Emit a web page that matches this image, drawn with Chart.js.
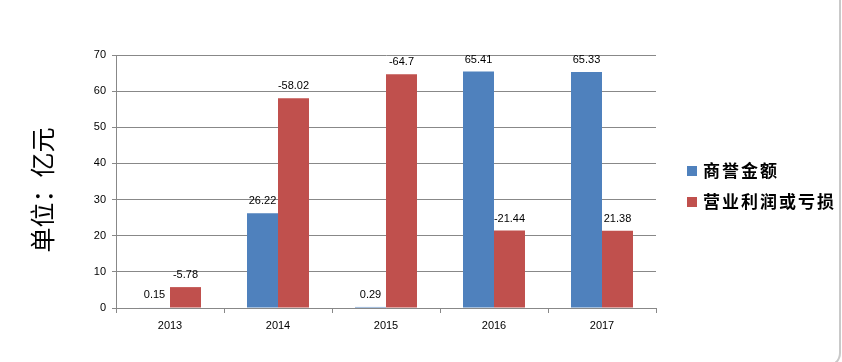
<!DOCTYPE html>
<html>
<head>
<meta charset="utf-8">
<script src="https://cdn.jsdelivr.net/npm/chart.js@4"></script>
<style>
  html, body { margin: 0; padding: 0; background: #fff; overflow: hidden; }
  #wrap { position: relative; width: 842px; height: 362px; overflow: hidden; }
  #frame { position: absolute; left: -10px; top: -10px; width: 851px; height: 377px;
           border-right: 2px solid #c9c9c9; border-bottom: 2px solid #c9c9c9; border-bottom-right-radius: 14px; box-sizing: border-box; pointer-events: none; }
</style>
</head>
<body>
<div id="wrap">
  <canvas id="chart" width="842" height="362"></canvas>
  <div id="frame"></div>
</div>
<script>
const years = ['2013', '2014', '2015', '2016', '2017'];
const goodwill = [0.15, 26.22, 0.29, 65.41, 65.33];
const profitLoss = [5.78, 58.02, 64.7, 21.44, 21.38];
const goodwillLabels = ['0.15', '26.22', '0.29', '65.41', '65.33'];
const profitLossLabels = ['-5.78', '-58.02', '-64.7', '-21.44', '21.38'];
const seriesNames = ['商誉金额', '营业利润或亏损'];
const colors = ['#4F81BD', '#C0504D'];

const valueLabels = {
  id: 'valueLabels',
  afterDatasetsDraw(chart) {
    const ctx = chart.ctx;
    const texts = [goodwillLabels, profitLossLabels];
    ctx.save();
    ctx.font = '11px "Liberation Sans", Arial, sans-serif';
    ctx.fillStyle = '#000';
    ctx.textAlign = 'center';
    ctx.textBaseline = 'middle';
    chart.data.datasets.forEach((ds, i) => {
      chart.getDatasetMeta(i).data.forEach((bar, j) => {
        ctx.fillText(texts[i][j], bar.x, bar.y - 12);
      });
    });
    ctx.restore();
  }
};

const sideText = {
  id: 'sideText',
  afterDraw(chart) {
    const ctx = chart.ctx;
    ctx.save();
    // y axis title
    ctx.translate(42, 190);
    ctx.rotate(-Math.PI / 2);
    ctx.font = '25px "Noto Sans CJK SC", sans-serif';
    ctx.fillStyle = '#000';
    ctx.textAlign = 'center';
    ctx.textBaseline = 'middle';
    ctx.fillText('单位：亿元', 0, 0);
    ctx.restore();

    // legend
    ctx.save();
    ctx.font = 'bold 17px "Noto Sans CJK SC", sans-serif';
    ctx.letterSpacing = '2px';
    ctx.textBaseline = 'middle';
    seriesNames.forEach((name, i) => {
      const y = 171 + i * 31;
      ctx.fillStyle = colors[i];
      ctx.fillRect(687, y - 5, 10, 10);
      ctx.fillStyle = '#000';
      ctx.fillText(name, 703, y);
    });
    ctx.restore();
  }
};

new Chart(document.getElementById('chart'), {
  type: 'bar',
  data: {
    labels: years,
    datasets: [
      { label: seriesNames[0], data: goodwill, backgroundColor: colors[0] },
      { label: seriesNames[1], data: profitLoss, backgroundColor: colors[1] },
    ],
  },
  options: {
    responsive: false,
    animation: false,
    events: [],
    layout: { padding: { left: 0, top: 55, right: 186, bottom: 0 } },
    datasets: { bar: { barPercentage: 1, categoryPercentage: 0.574 } },
    plugins: { legend: { display: false }, tooltip: { enabled: false } },
    scales: {
      x: {
        afterFit(s) { s.height = 54; },
        grid: { offset: true, drawOnChartArea: false, drawTicks: true, tickLength: 5, color: '#888' },
        border: { color: '#888' },
        ticks: { color: '#000', font: { size: 11, family: '"Liberation Sans", Arial, sans-serif' }, padding: 6 },
      },
      y: {
        min: 0,
        max: 70,
        afterFit(s) { s.width = 116; },
        ticks: { stepSize: 10, color: '#000', font: { size: 11, family: '"Liberation Sans", Arial, sans-serif' }, padding: 6 },
        grid: { color: '#888', tickLength: 4 },
        border: { color: '#888' },
      },
    },
  },
  plugins: [valueLabels, sideText],
});
</script>
</body>
</html>
